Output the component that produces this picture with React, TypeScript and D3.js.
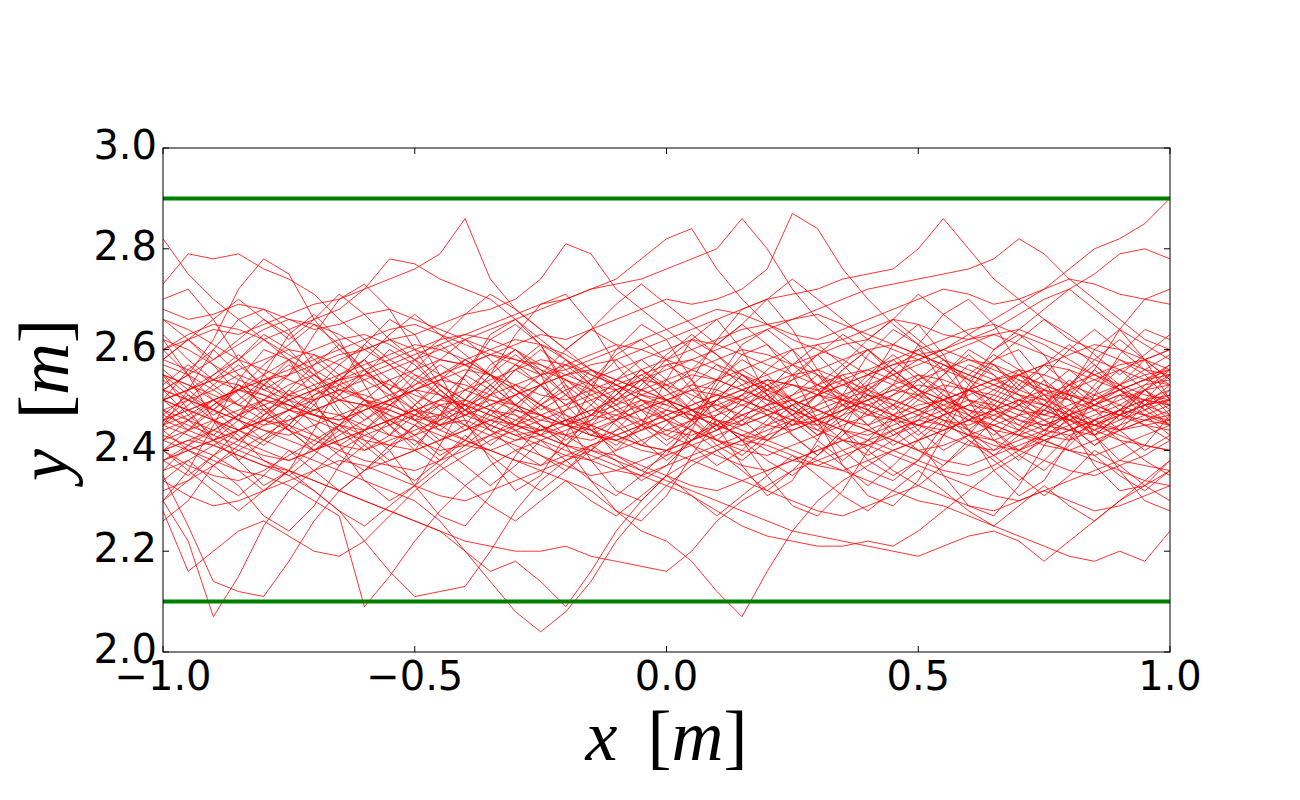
import * as d3 from 'd3';

// sample positions along the corridor (x in metres)
const xSamples = d3.range(41).map((i) => -1 + i * 0.05);

// lateral position y of each pedestrian track, read at the x samples above
const tracks: number[][] = [
  [2.82,2.75,2.70,2.66,2.62,2.58,2.55,2.52,2.50,2.49, 2.47,2.45,2.46,2.44,2.42,2.43,2.45,2.47,2.46,2.48, 2.50,2.52,2.51,2.49,2.47,2.45,2.46,2.48,2.50,2.53, 2.55,2.54,2.52,2.50,2.48,2.47,2.49,2.51,2.53,2.55, 2.56],
  [2.73,2.79,2.78,2.79,2.76,2.74,2.71,2.66,2.62,2.58, 2.55,2.53,2.50,2.48,2.47,2.45,2.43,2.42,2.44,2.46, 2.48,2.47,2.45,2.43,2.40,2.38,2.37,2.39,2.41,2.44, 2.46,2.48,2.50,2.49,2.47,2.45,2.44,2.46,2.48,2.50, 2.52],
  [2.52,2.55,2.62,2.72,2.78,2.75,2.66,2.60,2.56,2.52, 2.58,2.52,2.48,2.45,2.43,2.44,2.46,2.45,2.43,2.41, 2.40,2.42,2.44,2.47,2.49,2.50,2.48,2.46,2.44,2.42, 2.40,2.41,2.43,2.45,2.47,2.48,2.46,2.44,2.42,2.41, 2.40],
  [2.50,2.52,2.55,2.58,2.62,2.64,2.66,2.68,2.72,2.78, 2.77,2.74,2.72,2.70,2.66,2.62,2.58,2.55,2.53,2.50, 2.48,2.46,2.47,2.49,2.51,2.53,2.52,2.50,2.48,2.46, 2.45,2.47,2.49,2.52,2.55,2.57,2.56,2.54,2.52,2.50, 2.49],
  [2.60,2.62,2.64,2.63,2.65,2.67,2.69,2.70,2.72,2.74, 2.76,2.79,2.86,2.74,2.68,2.64,2.60,2.56,2.54,2.52, 2.50,2.48,2.49,2.51,2.53,2.55,2.56,2.54,2.52,2.50, 2.48,2.46,2.45,2.47,2.49,2.51,2.53,2.55,2.57,2.58, 2.60],
  [2.45,2.47,2.50,2.52,2.54,2.55,2.57,2.59,2.60,2.62, 2.63,2.65,2.67,2.68,2.70,2.74,2.81,2.79,2.72,2.68, 2.64,2.60,2.57,2.55,2.53,2.50,2.48,2.46,2.45,2.47, 2.49,2.50,2.52,2.51,2.49,2.47,2.46,2.48,2.50,2.52, 2.53],
  [2.48,2.50,2.52,2.55,2.53,2.51,2.50,2.52,2.54,2.56, 2.58,2.60,2.62,2.64,2.66,2.68,2.70,2.72,2.74,2.78, 2.82,2.84,2.76,2.70,2.65,2.62,2.60,2.58,2.55,2.53, 2.50,2.48,2.46,2.44,2.43,2.45,2.47,2.49,2.51,2.50, 2.49],
  [2.40,2.42,2.44,2.47,2.50,2.53,2.55,2.58,2.60,2.62, 2.60,2.58,2.57,2.59,2.61,2.63,2.62,2.64,2.66,2.68, 2.70,2.69,2.70,2.72,2.76,2.87,2.84,2.76,2.70,2.65, 2.61,2.58,2.56,2.54,2.52,2.50,2.48,2.46,2.44,2.45, 2.46],
  [2.55,2.53,2.51,2.49,2.48,2.50,2.52,2.54,2.56,2.58, 2.60,2.62,2.63,2.65,2.67,2.69,2.70,2.72,2.73,2.74, 2.76,2.78,2.80,2.86,2.80,2.72,2.66,2.62,2.58,2.55, 2.52,2.50,2.48,2.47,2.45,2.43,2.42,2.44,2.46,2.48, 2.50],
  [2.50,2.48,2.46,2.44,2.46,2.48,2.50,2.52,2.51,2.49, 2.47,2.45,2.47,2.49,2.51,2.53,2.55,2.57,2.58,2.60, 2.62,2.64,2.66,2.68,2.70,2.71,2.72,2.74,2.75,2.76, 2.80,2.86,2.80,2.74,2.70,2.66,2.62,2.60,2.58,2.56, 2.55],
  [2.42,2.44,2.46,2.48,2.50,2.49,2.47,2.46,2.48,2.50, 2.52,2.54,2.56,2.55,2.53,2.51,2.50,2.52,2.54,2.56, 2.58,2.60,2.62,2.64,2.65,2.66,2.68,2.70,2.72,2.73, 2.74,2.75,2.76,2.78,2.82,2.79,2.74,2.70,2.66,2.62, 2.60],
  [2.38,2.40,2.42,2.44,2.46,2.45,2.43,2.41,2.40,2.42, 2.44,2.46,2.48,2.50,2.49,2.47,2.45,2.43,2.42,2.44, 2.46,2.48,2.50,2.52,2.54,2.53,2.51,2.50,2.52,2.55, 2.58,2.60,2.63,2.66,2.69,2.72,2.76,2.80,2.82,2.85, 2.90],
  [2.48,2.46,2.44,2.42,2.40,2.38,2.40,2.42,2.44,2.46, 2.48,2.50,2.52,2.54,2.56,2.58,2.57,2.55,2.53,2.51, 2.50,2.52,2.54,2.56,2.58,2.60,2.61,2.62,2.64,2.66, 2.65,2.63,2.62,2.64,2.67,2.70,2.72,2.75,2.79,2.80, 2.78],
  [2.30,2.22,2.07,2.15,2.25,2.32,2.36,2.40,2.43,2.45, 2.47,2.49,2.50,2.48,2.46,2.44,2.43,2.45,2.47,2.49, 2.51,2.53,2.52,2.50,2.48,2.46,2.44,2.42,2.41,2.43, 2.45,2.47,2.49,2.48,2.46,2.45,2.47,2.49,2.51,2.53, 2.54],
  [2.35,2.25,2.14,2.12,2.11,2.18,2.26,2.32,2.36,2.38, 2.40,2.42,2.44,2.46,2.48,2.47,2.45,2.43,2.42,2.44, 2.46,2.48,2.50,2.52,2.54,2.53,2.51,2.49,2.47,2.46, 2.48,2.50,2.52,2.54,2.55,2.53,2.51,2.49,2.47,2.46, 2.45],
  [2.28,2.16,2.20,2.24,2.26,2.23,2.20,2.19,2.22,2.27, 2.32,2.36,2.39,2.42,2.44,2.46,2.48,2.50,2.52,2.54, 2.53,2.51,2.49,2.47,2.45,2.44,2.46,2.48,2.50,2.52, 2.54,2.56,2.58,2.57,2.55,2.53,2.51,2.50,2.52,2.54, 2.55],
  [2.42,2.40,2.38,2.36,2.35,2.33,2.30,2.27,2.09,2.15, 2.22,2.28,2.33,2.37,2.40,2.42,2.44,2.46,2.48,2.50, 2.49,2.47,2.45,2.43,2.42,2.44,2.46,2.48,2.50,2.52, 2.51,2.49,2.47,2.45,2.43,2.42,2.40,2.39,2.41,2.43, 2.45],
  [2.45,2.43,2.41,2.39,2.37,2.35,2.32,2.28,2.22,2.16, 2.11,2.12,2.13,2.20,2.28,2.34,2.38,2.41,2.43,2.45, 2.47,2.49,2.51,2.50,2.48,2.46,2.45,2.47,2.49,2.51, 2.53,2.52,2.50,2.48,2.46,2.44,2.43,2.45,2.47,2.49, 2.50],
  [2.50,2.48,2.46,2.44,2.42,2.40,2.38,2.36,2.34,2.32, 2.30,2.26,2.20,2.14,2.08,2.04,2.08,2.14,2.22,2.28, 2.33,2.37,2.40,2.42,2.44,2.46,2.48,2.50,2.49,2.47, 2.45,2.44,2.46,2.48,2.50,2.52,2.51,2.49,2.47,2.45, 2.44],
  [2.40,2.42,2.41,2.39,2.37,2.36,2.34,2.32,2.30,2.28, 2.26,2.24,2.20,2.16,2.18,2.14,2.09,2.16,2.24,2.30, 2.35,2.38,2.40,2.42,2.41,2.39,2.37,2.36,2.38,2.40, 2.42,2.44,2.46,2.45,2.43,2.41,2.40,2.42,2.44,2.46, 2.47],
  [2.46,2.44,2.42,2.40,2.38,2.36,2.34,2.32,2.30,2.28, 2.26,2.24,2.22,2.21,2.20,2.20,2.21,2.19,2.18,2.17, 2.16,2.20,2.26,2.30,2.33,2.36,2.38,2.40,2.42,2.44, 2.46,2.45,2.43,2.41,2.40,2.42,2.44,2.46,2.48,2.47, 2.46],
  [2.52,2.50,2.48,2.46,2.44,2.43,2.45,2.47,2.49,2.48, 2.46,2.44,2.42,2.40,2.38,2.36,2.34,2.32,2.28,2.24, 2.22,2.18,2.12,2.07,2.16,2.24,2.30,2.34,2.37,2.40, 2.42,2.44,2.46,2.48,2.50,2.49,2.47,2.45,2.44,2.46, 2.48],
  [2.38,2.40,2.42,2.44,2.46,2.48,2.47,2.45,2.43,2.41, 2.40,2.42,2.44,2.46,2.45,2.43,2.41,2.39,2.37,2.35, 2.33,2.31,2.28,2.25,2.23,2.22,2.21,2.21,2.22,2.21, 2.24,2.28,2.32,2.36,2.39,2.42,2.44,2.46,2.48,2.50, 2.51],
  [2.46,2.48,2.50,2.52,2.51,2.49,2.47,2.45,2.44,2.46, 2.48,2.50,2.49,2.47,2.45,2.43,2.41,2.40,2.38,2.36, 2.34,2.32,2.30,2.28,2.26,2.24,2.23,2.22,2.21,2.20, 2.19,2.21,2.23,2.24,2.22,2.18,2.22,2.26,2.30,2.33, 2.36],
  [2.50,2.52,2.54,2.53,2.51,2.49,2.47,2.46,2.48,2.50, 2.52,2.54,2.53,2.51,2.49,2.47,2.45,2.44,2.46,2.48, 2.50,2.48,2.46,2.44,2.42,2.40,2.38,2.36,2.34,2.32, 2.30,2.29,2.27,2.25,2.23,2.21,2.19,2.18,2.20,2.18, 2.24],
  [2.62,2.60,2.57,2.54,2.52,2.50,2.48,2.47,2.45,2.43, 2.42,2.40,2.41,2.43,2.45,2.47,2.49,2.51,2.53,2.55, 2.57,2.58,2.56,2.54,2.52,2.50,2.48,2.46,2.44,2.42, 2.40,2.38,2.37,2.39,2.41,2.43,2.45,2.47,2.49,2.52, 2.55],
  [2.36,2.38,2.41,2.44,2.47,2.50,2.52,2.54,2.55,2.53, 2.51,2.49,2.47,2.45,2.43,2.41,2.39,2.38,2.40,2.42, 2.44,2.46,2.48,2.50,2.52,2.54,2.56,2.58,2.60,2.61, 2.59,2.57,2.55,2.53,2.51,2.49,2.47,2.45,2.43,2.41, 2.40],
  [2.55,2.53,2.50,2.47,2.45,2.46,2.48,2.50,2.52,2.54, 2.56,2.58,2.57,2.55,2.52,2.49,2.46,2.44,2.42,2.40, 2.39,2.41,2.43,2.45,2.47,2.49,2.51,2.53,2.55,2.57, 2.59,2.60,2.58,2.56,2.54,2.52,2.50,2.48,2.47,2.49, 2.51],
  [2.44,2.46,2.49,2.52,2.55,2.58,2.60,2.62,2.63,2.61, 2.58,2.55,2.52,2.50,2.48,2.46,2.45,2.47,2.49,2.51, 2.53,2.55,2.54,2.52,2.50,2.48,2.46,2.44,2.42,2.40, 2.38,2.36,2.35,2.37,2.40,2.43,2.46,2.49,2.52,2.54, 2.56],
  [2.58,2.56,2.54,2.52,2.50,2.48,2.46,2.44,2.42,2.41, 2.43,2.45,2.47,2.49,2.51,2.53,2.55,2.56,2.54,2.52, 2.50,2.48,2.46,2.45,2.47,2.49,2.51,2.53,2.55,2.57, 2.58,2.60,2.62,2.63,2.61,2.59,2.57,2.55,2.53,2.51, 2.50],
  [2.40,2.37,2.35,2.34,2.36,2.39,2.42,2.45,2.48,2.50, 2.52,2.51,2.49,2.47,2.45,2.44,2.46,2.48,2.50,2.52, 2.54,2.56,2.58,2.60,2.59,2.57,2.55,2.53,2.51,2.49, 2.47,2.45,2.43,2.42,2.44,2.46,2.48,2.50,2.52,2.54, 2.57],
  [2.66,2.64,2.61,2.58,2.56,2.54,2.52,2.50,2.49,2.51, 2.53,2.55,2.57,2.59,2.58,2.56,2.54,2.52,2.50,2.48, 2.46,2.44,2.42,2.41,2.43,2.45,2.47,2.49,2.51,2.50, 2.48,2.46,2.44,2.42,2.40,2.38,2.36,2.35,2.37,2.39, 2.42],
  [2.50,2.52,2.54,2.56,2.58,2.60,2.59,2.57,2.54,2.51, 2.48,2.45,2.42,2.40,2.38,2.37,2.39,2.41,2.43,2.45, 2.47,2.49,2.51,2.53,2.55,2.57,2.59,2.61,2.62,2.60, 2.58,2.56,2.54,2.52,2.50,2.48,2.46,2.45,2.47,2.49, 2.50],
  [2.32,2.34,2.37,2.40,2.43,2.46,2.48,2.50,2.49,2.47, 2.45,2.43,2.41,2.40,2.42,2.44,2.46,2.48,2.47,2.45, 2.43,2.41,2.39,2.37,2.36,2.38,2.40,2.42,2.44,2.46, 2.48,2.50,2.52,2.54,2.56,2.55,2.53,2.51,2.49,2.47, 2.45],
  [2.60,2.63,2.65,2.64,2.62,2.59,2.56,2.53,2.50,2.48, 2.46,2.47,2.49,2.51,2.53,2.55,2.57,2.59,2.61,2.60, 2.58,2.56,2.54,2.52,2.50,2.48,2.46,2.44,2.43,2.45, 2.47,2.49,2.51,2.53,2.55,2.57,2.59,2.61,2.60,2.58, 2.56],
  [2.47,2.45,2.43,2.41,2.39,2.38,2.40,2.43,2.46,2.49, 2.52,2.55,2.58,2.60,2.62,2.61,2.59,2.56,2.53,2.50, 2.47,2.44,2.42,2.40,2.39,2.41,2.43,2.45,2.47,2.49, 2.51,2.53,2.52,2.50,2.48,2.46,2.44,2.43,2.45,2.47, 2.49],
  [2.52,2.55,2.58,2.61,2.64,2.66,2.65,2.63,2.60,2.57, 2.54,2.51,2.48,2.46,2.44,2.42,2.40,2.38,2.36,2.35, 2.37,2.39,2.41,2.43,2.45,2.47,2.49,2.51,2.53,2.55, 2.57,2.59,2.61,2.63,2.64,2.62,2.60,2.58,2.56,2.54, 2.53],
  [2.43,2.41,2.39,2.42,2.45,2.48,2.51,2.53,2.55,2.57, 2.59,2.61,2.63,2.62,2.60,2.57,2.54,2.51,2.48,2.46, 2.44,2.43,2.45,2.47,2.49,2.51,2.53,2.55,2.56,2.54, 2.52,2.50,2.48,2.46,2.44,2.42,2.40,2.38,2.36,2.34, 2.33],
  [2.57,2.55,2.52,2.49,2.46,2.44,2.42,2.40,2.38,2.37, 2.36,2.38,2.40,2.43,2.46,2.49,2.52,2.54,2.56,2.58, 2.60,2.62,2.61,2.59,2.57,2.55,2.53,2.51,2.49,2.47, 2.45,2.43,2.41,2.40,2.42,2.44,2.47,2.50,2.53,2.56, 2.59],
  [2.38,2.41,2.44,2.47,2.49,2.51,2.53,2.55,2.57,2.59, 2.61,2.60,2.58,2.55,2.52,2.49,2.47,2.45,2.43,2.41, 2.40,2.42,2.44,2.46,2.48,2.50,2.52,2.54,2.56,2.58, 2.60,2.62,2.64,2.65,2.63,2.61,2.58,2.55,2.52,2.49, 2.47],
  [2.68,2.66,2.67,2.69,2.68,2.66,2.64,2.65,2.67,2.68, 2.66,2.64,2.62,2.60,2.58,2.57,2.55,2.53,2.52,2.54, 2.56,2.58,2.60,2.62,2.64,2.66,2.67,2.65,2.63,2.61, 2.59,2.57,2.55,2.53,2.51,2.50,2.52,2.54,2.56,2.58, 2.60],
  [2.34,2.31,2.29,2.30,2.32,2.34,2.36,2.38,2.37,2.35, 2.33,2.31,2.30,2.32,2.34,2.36,2.38,2.40,2.39,2.37, 2.35,2.33,2.32,2.34,2.36,2.38,2.40,2.42,2.41,2.39, 2.37,2.35,2.33,2.31,2.30,2.32,2.34,2.36,2.38,2.37, 2.36],
  [2.46,2.48,2.50,2.52,2.54,2.56,2.58,2.60,2.62,2.64, 2.65,2.63,2.61,2.59,2.57,2.55,2.56,2.58,2.60,2.62, 2.64,2.66,2.68,2.67,2.65,2.63,2.62,2.64,2.66,2.68, 2.70,2.72,2.71,2.69,2.70,2.72,2.74,2.73,2.71,2.70, 2.69],
  [2.52,2.50,2.48,2.46,2.44,2.42,2.40,2.42,2.44,2.46, 2.48,2.47,2.45,2.43,2.41,2.39,2.37,2.35,2.36,2.38, 2.40,2.38,2.36,2.34,2.32,2.30,2.28,2.27,2.29,2.31, 2.33,2.31,2.29,2.28,2.30,2.32,2.30,2.28,2.29,2.31, 2.33],
  [2.50,2.56,2.60,2.55,2.48,2.44,2.49,2.55,2.58,2.52, 2.46,2.42,2.45,2.51,2.56,2.53,2.47,2.43,2.46,2.52, 2.57,2.54,2.48,2.45,2.49,2.55,2.59,2.54,2.48,2.43, 2.46,2.52,2.57,2.55,2.49,2.44,2.47,2.53,2.58,2.55, 2.50],
  [2.44,2.40,2.37,2.41,2.47,2.52,2.49,2.44,2.40,2.43, 2.49,2.54,2.58,2.55,2.49,2.45,2.42,2.46,2.51,2.55, 2.52,2.47,2.42,2.39,2.43,2.48,2.53,2.50,2.45,2.41, 2.44,2.50,2.55,2.59,2.56,2.50,2.45,2.41,2.44,2.49, 2.53],
  [2.58,2.62,2.57,2.51,2.47,2.52,2.57,2.61,2.56,2.50, 2.46,2.50,2.55,2.52,2.47,2.43,2.48,2.54,2.59,2.62, 2.58,2.52,2.48,2.51,2.56,2.60,2.55,2.49,2.45,2.49, 2.54,2.58,2.53,2.48,2.52,2.57,2.61,2.57,2.52,2.48, 2.45],
  [2.36,2.41,2.46,2.43,2.38,2.35,2.39,2.45,2.50,2.47, 2.42,2.38,2.42,2.48,2.44,2.39,2.36,2.40,2.46,2.50, 2.46,2.41,2.37,2.40,2.45,2.49,2.45,2.40,2.36,2.34, 2.38,2.43,2.47,2.44,2.39,2.36,2.41,2.46,2.42,2.38, 2.35],
  [2.52,2.47,2.43,2.47,2.53,2.57,2.53,2.47,2.44,2.48, 2.54,2.58,2.62,2.58,2.52,2.48,2.51,2.56,2.52,2.46, 2.42,2.45,2.50,2.55,2.52,2.47,2.43,2.46,2.51,2.56, 2.60,2.56,2.50,2.46,2.49,2.54,2.50,2.45,2.48,2.53, 2.57],
  [2.47,2.51,2.48,2.44,2.41,2.45,2.51,2.54,2.50,2.45, 2.49,2.53,2.49,2.44,2.40,2.37,2.41,2.47,2.52,2.48, 2.43,2.46,2.52,2.56,2.53,2.48,2.44,2.48,2.53,2.49, 2.44,2.40,2.43,2.49,2.54,2.51,2.46,2.43,2.47,2.52, 2.49],
  [2.63,2.58,2.54,2.58,2.63,2.60,2.55,2.51,2.55,2.60, 2.57,2.52,2.48,2.52,2.57,2.61,2.58,2.53,2.49,2.53, 2.58,2.62,2.59,2.54,2.50,2.54,2.59,2.63,2.60,2.55, 2.51,2.55,2.60,2.57,2.52,2.55,2.60,2.64,2.60,2.56, 2.53],
  [2.40,2.44,2.49,2.53,2.49,2.44,2.40,2.37,2.41,2.46, 2.43,2.39,2.42,2.47,2.51,2.47,2.43,2.40,2.44,2.49, 2.46,2.42,2.45,2.50,2.54,2.50,2.46,2.42,2.39,2.42, 2.47,2.51,2.48,2.44,2.40,2.44,2.48,2.52,2.56,2.52, 2.47],
  [2.55,2.51,2.47,2.50,2.54,2.50,2.45,2.41,2.44,2.49, 2.53,2.57,2.54,2.49,2.45,2.49,2.53,2.49,2.45,2.41, 2.45,2.50,2.46,2.42,2.46,2.51,2.55,2.51,2.47,2.51, 2.55,2.52,2.47,2.43,2.47,2.52,2.56,2.52,2.48,2.45, 2.42],
  [2.30,2.34,2.39,2.36,2.32,2.36,2.41,2.45,2.41,2.37, 2.34,2.38,2.43,2.39,2.35,2.32,2.36,2.41,2.38,2.34, 2.37,2.42,2.46,2.42,2.38,2.35,2.39,2.44,2.40,2.36, 2.33,2.37,2.42,2.39,2.35,2.31,2.35,2.40,2.37,2.33, 2.30],
  [2.60,2.55,2.50,2.46,2.50,2.55,2.59,2.55,2.50,2.46, 2.43,2.47,2.52,2.56,2.60,2.56,2.51,2.47,2.51,2.56, 2.53,2.48,2.44,2.48,2.52,2.57,2.61,2.57,2.52,2.48, 2.52,2.57,2.54,2.49,2.45,2.49,2.54,2.50,2.46,2.50, 2.55],
  [2.45,2.49,2.53,2.57,2.53,2.48,2.52,2.57,2.61,2.57, 2.52,2.48,2.44,2.48,2.53,2.49,2.45,2.49,2.54,2.58, 2.54,2.50,2.54,2.58,2.55,2.50,2.46,2.50,2.55,2.59, 2.55,2.51,2.47,2.51,2.56,2.52,2.48,2.44,2.48,2.52, 2.56],
  [2.38,2.35,2.39,2.44,2.48,2.44,2.40,2.44,2.49,2.45, 2.40,2.37,2.41,2.45,2.49,2.53,2.49,2.44,2.41,2.45, 2.50,2.46,2.41,2.38,2.42,2.46,2.42,2.38,2.42,2.47, 2.51,2.47,2.43,2.39,2.43,2.48,2.52,2.48,2.44,2.40, 2.43],
  [2.66,2.62,2.58,2.62,2.66,2.63,2.58,2.54,2.58,2.63, 2.67,2.63,2.59,2.55,2.51,2.55,2.60,2.64,2.61,2.56, 2.52,2.56,2.61,2.65,2.61,2.57,2.53,2.57,2.62,2.66, 2.62,2.58,2.54,2.58,2.62,2.66,2.63,2.59,2.55,2.59, 2.63],
  [2.50,2.46,2.42,2.38,2.42,2.47,2.43,2.39,2.36,2.40, 2.45,2.49,2.45,2.41,2.45,2.50,2.54,2.50,2.46,2.42, 2.38,2.42,2.47,2.51,2.47,2.43,2.39,2.43,2.48,2.44, 2.40,2.37,2.41,2.46,2.50,2.46,2.42,2.46,2.51,2.47, 2.43],
  [2.53,2.57,2.53,2.49,2.53,2.58,2.54,2.50,2.46,2.50, 2.55,2.51,2.47,2.51,2.56,2.60,2.56,2.52,2.48,2.44, 2.48,2.53,2.57,2.53,2.49,2.45,2.49,2.54,2.50,2.46, 2.50,2.55,2.59,2.55,2.51,2.47,2.51,2.56,2.52,2.48, 2.52],
  [2.42,2.46,2.50,2.46,2.42,2.45,2.50,2.54,2.58,2.54, 2.49,2.45,2.49,2.53,2.49,2.45,2.41,2.45,2.50,2.54, 2.50,2.46,2.42,2.46,2.51,2.47,2.43,2.47,2.52,2.56, 2.52,2.48,2.44,2.40,2.44,2.49,2.45,2.41,2.45,2.50, 2.46],
  [2.56,2.52,2.48,2.52,2.57,2.61,2.65,2.61,2.56,2.52, 2.56,2.61,2.57,2.53,2.49,2.53,2.58,2.54,2.50,2.54, 2.59,2.63,2.59,2.55,2.51,2.47,2.51,2.56,2.60,2.56, 2.52,2.48,2.52,2.57,2.53,2.49,2.53,2.58,2.62,2.58, 2.54],
  [2.34,2.38,2.34,2.31,2.35,2.40,2.36,2.32,2.36,2.41, 2.45,2.41,2.37,2.33,2.37,2.42,2.38,2.34,2.31,2.35, 2.40,2.44,2.40,2.36,2.32,2.36,2.41,2.37,2.33,2.37, 2.42,2.46,2.42,2.38,2.34,2.38,2.43,2.39,2.35,2.32, 2.36],
  [2.48,2.44,2.48,2.53,2.49,2.45,2.41,2.45,2.50,2.54, 2.50,2.46,2.50,2.55,2.59,2.55,2.51,2.47,2.51,2.56, 2.52,2.48,2.44,2.48,2.53,2.49,2.45,2.49,2.54,2.58, 2.54,2.50,2.46,2.50,2.55,2.51,2.47,2.43,2.47,2.52, 2.48],
  [2.58,2.62,2.66,2.70,2.66,2.62,2.66,2.71,2.67,2.62, 2.58,2.62,2.67,2.71,2.68,2.64,2.60,2.64,2.69,2.73, 2.69,2.65,2.61,2.65,2.70,2.74,2.70,2.66,2.62,2.66, 2.71,2.67,2.63,2.60,2.64,2.68,2.72,2.68,2.64,2.61, 2.58],
  [2.40,2.36,2.32,2.28,2.32,2.36,2.32,2.28,2.25,2.29, 2.33,2.37,2.33,2.29,2.26,2.30,2.34,2.30,2.27,2.31, 2.35,2.31,2.27,2.31,2.35,2.39,2.35,2.31,2.28,2.32, 2.36,2.32,2.28,2.25,2.29,2.33,2.29,2.26,2.30,2.34, 2.38],
  [2.46,2.50,2.46,2.42,2.46,2.51,2.55,2.51,2.47,2.43, 2.47,2.52,2.48,2.44,2.48,2.53,2.57,2.53,2.49,2.45, 2.41,2.45,2.50,2.46,2.42,2.46,2.51,2.55,2.51,2.47, 2.43,2.47,2.52,2.48,2.44,2.48,2.53,2.57,2.53,2.49, 2.45],
  [2.54,2.50,2.55,2.59,2.55,2.51,2.47,2.51,2.56,2.52, 2.48,2.44,2.48,2.53,2.57,2.53,2.49,2.53,2.58,2.54, 2.50,2.46,2.50,2.55,2.51,2.47,2.51,2.56,2.60,2.56, 2.52,2.48,2.44,2.48,2.53,2.57,2.53,2.49,2.53,2.58, 2.54],
  [2.45,2.52,2.60,2.66,2.68,2.64,2.56,2.48,2.42,2.38, 2.40,2.47,2.55,2.62,2.65,2.61,2.53,2.45,2.39,2.36, 2.39,2.46,2.54,2.61,2.64,2.60,2.52,2.44,2.38,2.35, 2.38,2.45,2.53,2.60,2.63,2.59,2.51,2.43,2.38,2.41, 2.47],
  [2.62,2.55,2.46,2.38,2.33,2.36,2.44,2.53,2.61,2.66, 2.63,2.55,2.46,2.38,2.32,2.35,2.43,2.52,2.60,2.65, 2.62,2.54,2.45,2.37,2.31,2.34,2.42,2.51,2.59,2.64, 2.61,2.53,2.44,2.36,2.31,2.34,2.42,2.51,2.59,2.64, 2.62],
  [2.30,2.36,2.45,2.54,2.60,2.58,2.50,2.41,2.34,2.30, 2.33,2.41,2.50,2.57,2.60,2.55,2.46,2.38,2.32,2.30, 2.35,2.44,2.53,2.59,2.61,2.55,2.46,2.37,2.31,2.29, 2.34,2.43,2.52,2.58,2.60,2.54,2.45,2.37,2.32,2.33, 2.38],
  [2.70,2.72,2.66,2.58,2.52,2.55,2.63,2.70,2.73,2.68, 2.60,2.53,2.50,2.55,2.63,2.69,2.71,2.65,2.57,2.51, 2.49,2.54,2.62,2.68,2.70,2.64,2.56,2.50,2.48,2.53, 2.61,2.67,2.70,2.65,2.57,2.51,2.50,2.56,2.64,2.70, 2.72],
  [2.26,2.30,2.37,2.33,2.27,2.24,2.29,2.37,2.44,2.40, 2.33,2.27,2.25,2.31,2.39,2.45,2.41,2.34,2.28,2.26, 2.31,2.39,2.46,2.42,2.35,2.29,2.27,2.32,2.40,2.46, 2.42,2.35,2.29,2.27,2.33,2.41,2.47,2.43,2.36,2.30, 2.28],
  [2.55,2.48,2.42,2.46,2.55,2.63,2.67,2.62,2.53,2.45, 2.41,2.46,2.55,2.63,2.66,2.61,2.52,2.44,2.40,2.45, 2.54,2.62,2.66,2.60,2.51,2.43,2.39,2.44,2.53,2.61, 2.65,2.59,2.50,2.42,2.38,2.43,2.52,2.60,2.64,2.58, 2.50],
];

// corridor walls
const walls = [2.1, 2.9];

const xTicks = [-1.0, -0.5, 0.0, 0.5, 1.0];
const yTicks = [2.0, 2.2, 2.4, 2.6, 2.8, 3.0];

const W = 1300;
const H = 800;
const plot = { left: 163, right: 1170, top: 148, bottom: 652 };

export default function App() {
  const x = d3.scaleLinear().domain([-1, 1]).range([plot.left, plot.right]);
  const y = d3.scaleLinear().domain([2, 3]).range([plot.bottom, plot.top]);

  const line = d3
    .line<number>()
    .x((_, i) => x(xSamples[i]))
    .y((d) => y(d));

  const tickLen = 6;
  const fontTicks = 'DejaVu Sans, sans-serif';
  const fontMath = '"Liberation Serif", "DejaVu Serif", serif';

  return (
    <svg
      width={W}
      height={H}
      style={{ position: 'absolute', left: 0, top: 0, background: '#fff' }}
    >
      <defs>
        <clipPath id="plotArea">
          <rect
            x={plot.left}
            y={plot.top}
            width={plot.right - plot.left}
            height={plot.bottom - plot.top}
          />
        </clipPath>
      </defs>

      <g clipPath="url(#plotArea)">
        {tracks.map((t, i) => (
          <path key={i} d={line(t) ?? ''} fill="none" stroke="#ff0000" strokeWidth={0.8} />
        ))}
        {walls.map((w) => (
          <line
            key={w}
            x1={plot.left}
            x2={plot.right}
            y1={y(w)}
            y2={y(w)}
            stroke="#008000"
            strokeWidth={4}
          />
        ))}
      </g>

      {/* frame */}
      <rect
        x={plot.left}
        y={plot.top}
        width={plot.right - plot.left}
        height={plot.bottom - plot.top}
        fill="none"
        stroke="#000"
        strokeWidth={1}
      />

      {/* x ticks, inward on bottom and top */}
      {xTicks.map((t) => (
        <g key={'x' + t}>
          <line x1={x(t)} x2={x(t)} y1={plot.bottom} y2={plot.bottom - tickLen} stroke="#000" />
          <line x1={x(t)} x2={x(t)} y1={plot.top} y2={plot.top + tickLen} stroke="#000" />
          <text
            x={x(t)}
            y={plot.bottom + 38}
            textAnchor="middle"
            fontFamily={fontTicks}
            fontSize={40}
          >
            {d3.format('.1f')(t).replace('-', '\u2212')}
          </text>
        </g>
      ))}

      {/* y ticks, inward on left and right */}
      {yTicks.map((t) => (
        <g key={'y' + t}>
          <line x1={plot.left} x2={plot.left + tickLen} y1={y(t)} y2={y(t)} stroke="#000" />
          <line x1={plot.right} x2={plot.right - tickLen} y1={y(t)} y2={y(t)} stroke="#000" />
          <text
            x={plot.left - 6}
            y={y(t) + 11}
            textAnchor="end"
            fontFamily={fontTicks}
            fontSize={40}
          >
            {d3.format('.1f')(t)}
          </text>
        </g>
      ))}

      {/* axis labels */}
      <text
        x={(plot.left + plot.right) / 2}
        y={760}
        textAnchor="middle"
        fontFamily={fontMath}
        fontSize={72}
      >
        <tspan fontStyle="italic">x</tspan>
        <tspan dx={30}>[</tspan>
        <tspan fontStyle="italic">m</tspan>
        <tspan>]</tspan>
      </text>
      <text
        transform={`translate(68, ${(plot.top + plot.bottom) / 2}) rotate(-90)`}
        textAnchor="middle"
        fontFamily={fontMath}
        fontSize={72}
      >
        <tspan fontStyle="italic">y</tspan>
        <tspan dx={30}>[</tspan>
        <tspan fontStyle="italic">m</tspan>
        <tspan>]</tspan>
      </text>
    </svg>
  );
}
